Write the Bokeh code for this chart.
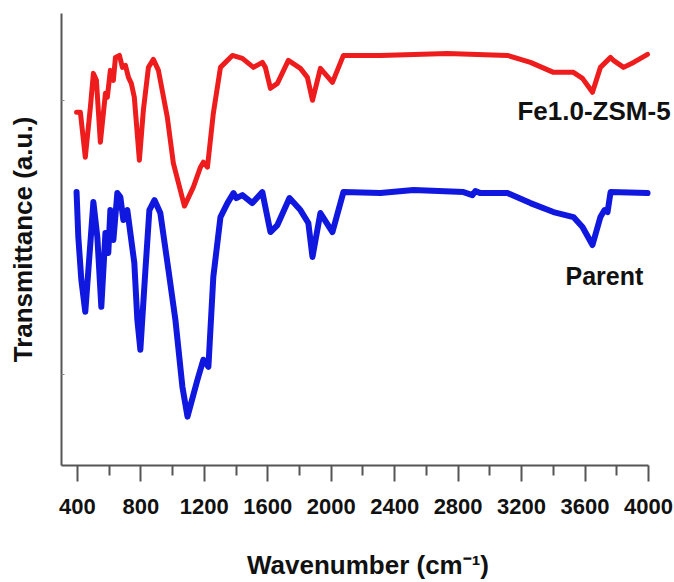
from bokeh.plotting import figure
from bokeh.models import Range1d, FixedTicker, Label
from bokeh.embed import file_html
from bokeh.resources import INLINE

# Fe1.0-ZSM-5 spectrum (wavenumber, transmittance a.u.)
fe_wn = [395, 419, 450, 482, 501, 520, 545, 577, 589, 608, 627, 640, 665, 684, 703, 722,
         740, 759, 791, 816, 848, 879, 911, 967, 1005, 1075, 1131, 1176, 1194, 1220, 1257,
         1302, 1377, 1440, 1510, 1566, 1585, 1617, 1661, 1730, 1806, 1850, 1882, 1932,
         2008, 2077, 2310, 2733, 3111, 3256, 3401, 3527, 3584, 3647, 3697, 3729, 3761,
         3779, 3843, 3906, 3994]
fe_t = [35.4, 35.4, 30.9, 35.9, 39.3, 38.6, 32.4, 37.3, 36.9, 39.6, 38.6, 40.9, 41.1, 39.9,
        40.1, 38.9, 38.3, 36.9, 30.6, 35.6, 39.9, 40.7, 39.6, 34.9, 30.3, 26.0, 27.9, 29.9,
        30.4, 29.9, 35.3, 39.9, 41.1, 40.8, 39.9, 40.4, 39.9, 37.8, 38.3, 40.6, 39.8, 38.9,
        36.6, 39.8, 38.4, 41.1, 41.1, 41.3, 41.1, 40.4, 39.4, 39.4, 38.8, 37.4, 39.9, 40.4,
        40.9, 40.6, 39.9, 40.4, 41.2]

# Parent spectrum
pa_wn = [395, 406, 425, 450, 482, 501, 526, 551, 577, 595, 608, 627, 652, 671, 690, 715,
         734, 759, 778, 797, 829, 854, 886, 923, 974, 1018, 1062, 1094, 1157, 1194, 1226,
         1257, 1302, 1346, 1384, 1402, 1440, 1503, 1566, 1617, 1661, 1737, 1806, 1856,
         1882, 1932, 2008, 2077, 2310, 2519, 2834, 2890, 2909, 2941, 3111, 3256, 3401,
         3527, 3584, 3647, 3697, 3723, 3742, 3761, 3994]
pa_t = [27.4, 22.9, 18.6, 15.4, 22.3, 26.4, 22.9, 15.9, 23.3, 21.3, 25.6, 22.6, 27.3, 26.9,
        24.6, 25.6, 23.3, 20.3, 14.6, 11.6, 19.6, 25.6, 26.6, 25.3, 19.6, 14.6, 7.9, 4.9,
        8.6, 10.6, 9.9, 18.9, 24.9, 26.3, 27.3, 26.8, 27.1, 26.3, 27.4, 23.4, 24.1, 26.8,
        25.6, 24.3, 20.9, 25.3, 23.4, 27.4, 27.3, 27.6, 27.4, 27.1, 27.5, 27.3, 27.3, 26.3,
        25.4, 24.9, 23.9, 22.1, 24.9, 25.6, 25.4, 27.4, 27.3]

x_ticks = [400, 800, 1200, 1600, 2000, 2400, 2800, 3200, 3600, 4000]
x_minor = [600, 1000, 1400, 1800, 2200, 2600, 3000, 3400, 3800]
y_ticks = [9.1, 36.6]

labels = ["Fe1.0-ZSM-5", "Parent"]
label_x = [3174, 3477]
label_y = [35.5, 19.0]
label_size = ["26px", "25px"]

FONT = "Liberation Sans"

p = figure(width=674, height=582, x_range=Range1d(300, 4164), y_range=Range1d(0, 45.3),
           output_backend="svg", toolbar_location=None,
           min_border_left=61, min_border_right=0, min_border_top=13, min_border_bottom=116)
p.outline_line_color = None
p.xgrid.visible = False
p.ygrid.visible = False
p.background_fill_color = "white"
p.border_fill_color = "white"

p.line(fe_wn, fe_t, line_color="#ee1c1c", line_width=5, line_join="round", line_cap="round")
p.line(pa_wn, pa_t, line_color="#1018e0", line_width=6, line_join="round", line_cap="round")

xa = p.xaxis[0]
xa.bounds = (300, 4000)
xa.ticker = FixedTicker(ticks=x_ticks, minor_ticks=x_minor)
xa.axis_line_color = "#555555"
xa.axis_line_width = 2
xa.major_tick_line_color = "#555555"
xa.major_tick_line_width = 2
xa.minor_tick_line_color = "#555555"
xa.minor_tick_line_width = 2
xa.major_tick_in = 0
xa.major_tick_out = 16
xa.minor_tick_in = 0
xa.minor_tick_out = 10
xa.major_label_text_font = FONT
xa.major_label_text_font_style = "bold"
xa.major_label_text_font_size = "22px"
xa.major_label_text_color = "#111111"
xa.major_label_standoff = 17
xa.axis_label = "Wavenumber (cm\u207b\u00b9)"
xa.axis_label_text_font = FONT
xa.axis_label_text_font_style = "bold"
xa.axis_label_text_font_size = "26px"
xa.axis_label_text_color = "#111111"
xa.axis_label_standoff = 33

ya = p.yaxis[0]
ya.ticker = FixedTicker(ticks=[], minor_ticks=y_ticks)
ya.axis_line_color = "#555555"
ya.axis_line_width = 2
ya.minor_tick_line_color = "#888888"
ya.minor_tick_line_width = 1
ya.minor_tick_in = 3
ya.minor_tick_out = 0
ya.major_tick_in = 0
ya.major_tick_out = 0
ya.major_label_standoff = 0
ya.axis_label = "Transmittance (a.u.)"
ya.axis_label_text_font = FONT
ya.axis_label_text_font_style = "bold"
ya.axis_label_text_font_size = "26px"
ya.axis_label_text_color = "#111111"
ya.axis_label_standoff = 24

for t, lx, ly, fs in zip(labels, label_x, label_y, label_size):
    p.add_layout(Label(x=lx, y=ly, text=t, text_font=FONT, text_font_style="bold",
                       text_font_size=fs, text_color="#111111",
                       text_baseline="middle", text_align="left"))

open("out.html", "w").write(file_html(p, INLINE))
